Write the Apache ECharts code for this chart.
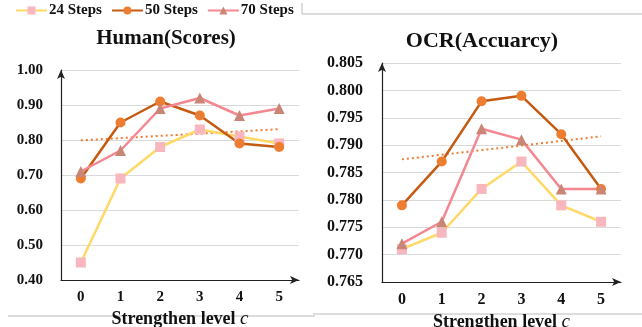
<!DOCTYPE html>
<html><head><meta charset="utf-8">
<script src="https://cdn.jsdelivr.net/npm/echarts@6/dist/echarts.min.js"></script>
<style>html,body{margin:0;padding:0;background:#fff}#c{width:642px;height:327px}</style>
</head><body><div id="c"></div>
<script>
const categories = ['0','1','2','3','4','5'];
const seriesNames = ['24 Steps','50 Steps','70 Steps'];
// Human(Scores)
const human24 = [0.45, 0.69, 0.78, 0.83, 0.81, 0.79];
const human50 = [0.69, 0.85, 0.91, 0.87, 0.79, 0.78];
const human70 = [0.71, 0.77, 0.89, 0.92, 0.87, 0.89];
const humanTrend = [0.799, null, null, null, null, 0.831];
// OCR(Accuarcy)
const ocr24 = [0.771, 0.774, 0.782, 0.787, 0.779, 0.776];
const ocr50 = [0.779, 0.787, 0.798, 0.799, 0.792, 0.782];
const ocr70 = [0.772, 0.776, 0.793, 0.791, 0.782, 0.782];
const ocrTrend = [0.7874, null, null, null, null, 0.7916];

const F = '"Liberation Serif","Times New Roman",serif';
const styles = [
  {line:'#FFD966', item:'#F8B6BE', symbol:'rect', size:10},
  {line:'#C55A11', item:'#ED7D31', symbol:'circle', size:10},
  {line:'#F4878F', item:'#C98576', symbol:'triangle', size:11}
];
function mk(name, data, st, xi){
  return {name, type:'line', data, xAxisIndex:xi, yAxisIndex:xi, symbol:st.symbol, symbolSize:st.size,
    lineStyle:{color:st.line, width:2.5}, itemStyle:{color:st.item}, animation:false};
}
function trend(data, xi){
  return {type:'line', data, xAxisIndex:xi, yAxisIndex:xi, connectNulls:true, symbol:'none',
    lineStyle:{color:'#ED7D31', width:2, type:[2,3]}, animation:false, silent:true, z:1};
}
const axisLine = {show:true, lineStyle:{color:'#222', width:1.2}, symbol:['none','arrow'], symbolSize:[6,9]};
function xAx(gi, gap, lblSize){
  return {type:'category', gridIndex:gi, data:categories, boundaryGap:true,
    axisLine, axisTick:{show:false},
    axisLabel:{fontFamily:F, fontWeight:'bold', fontSize:lblSize, color:'#111', margin:10},
    name:'Strengthen level {i|c}', nameLocation:'middle', nameGap:gap,
    nameTextStyle:{fontFamily:F, fontWeight:'bold', fontSize:18, color:'#111',
      rich:{i:{fontFamily:F, fontStyle:'italic', fontWeight:'normal', fontSize:19, color:'#111'}}}};
}
const chart = echarts.init(document.getElementById('c'));
chart.setOption({
  backgroundColor:'#fff',
  title:[
    {text:'Human(Scores)', left:161, top:23, textAlign:'center', textStyle:{fontFamily:F, fontWeight:'bold', fontSize:21, color:'#111'}},
    {text:'OCR(Accuarcy)', left:477, top:25, textAlign:'center', textStyle:{fontFamily:F, fontWeight:'bold', fontSize:22, color:'#111'}}
  ],
  legend:{data:seriesNames, left:15, top:3, padding:0, itemWidth:31, itemHeight:10, itemGap:9,
    textStyle:{fontFamily:F, fontWeight:'bold', fontSize:15, color:'#111', padding:[0,0,0,-3]}},
  grid:[
    {left:61, right:343, top:70, bottom:47, outerBoundsMode:'none', containLabel:false},
    {left:382, right:21, top:63, bottom:45, outerBoundsMode:'none', containLabel:false}
  ],
  xAxis:[xAx(0,28,15), xAx(1,21,16)],
  yAxis:[
    {type:'value', gridIndex:0, min:0.4, max:1.0, interval:0.1, axisLine, axisTick:{show:false},
      splitLine:{lineStyle:{color:'#DADADA'}},
      axisLabel:{fontFamily:F, fontWeight:'bold', fontSize:15, color:'#111', margin:18, formatter:v=>v.toFixed(2)}},
    {type:'value', gridIndex:1, min:0.765, max:0.805, interval:0.005, axisLine, axisTick:{show:false},
      splitLine:{lineStyle:{color:'#DADADA'}},
      axisLabel:{fontFamily:F, fontWeight:'bold', fontSize:16, color:'#111', margin:19, formatter:v=>v.toFixed(3)}}
  ],
  series:[
    trend(humanTrend,0),
    mk(seriesNames[0], human24, styles[0], 0),
    mk(seriesNames[1], human50, styles[1], 0),
    mk(seriesNames[2], human70, styles[2], 0),
    trend(ocrTrend,1),
    mk(seriesNames[0], ocr24, styles[0], 1),
    mk(seriesNames[1], ocr50, styles[1], 1),
    mk(seriesNames[2], ocr70, styles[2], 1)
  ],
  graphic:[
    {type:'polyline', shape:{points:[[302,3],[302,14],[642,14]]}, style:{stroke:'#BBBBBB', fill:null, lineWidth:1}},
    {type:'line', shape:{x1:8,y1:316,x2:315,y2:316}, style:{stroke:'#BBBBBB', lineWidth:1}},
    {type:'line', shape:{x1:313,y1:314,x2:642,y2:314}, style:{stroke:'#BBBBBB', lineWidth:1}}
  ]
});
</script></body></html>
